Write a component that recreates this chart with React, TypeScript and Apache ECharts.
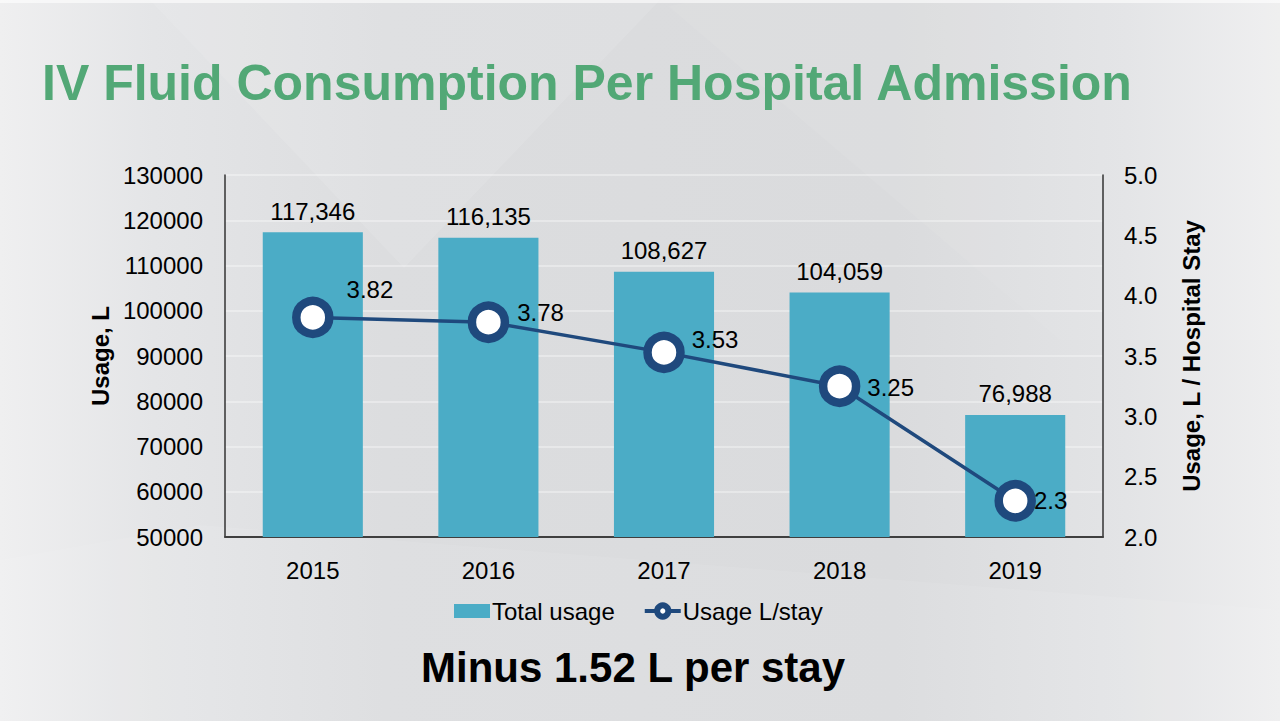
import React, { useEffect, useRef } from "react";
import * as echarts from "echarts";

const categories = ["2015", "2016", "2017", "2018", "2019"];
const totalUsage = [117346, 116135, 108627, 104059, 76988];
const usagePerStay = [3.82, 3.78, 3.53, 3.25, 2.3];
const leftTicks = { min: 50000, max: 130000, interval: 10000 };
const rightTicks = { min: 2.0, max: 5.0, interval: 0.5 };

const titleText = "IV Fluid Consumption Per Hospital Admission";
const subtitleText = "Minus 1.52 L per stay";
const seriesNames = ["Total usage", "Usage L/stay"];
const axisNames = ["Usage, L", "Usage, L / Hospital Stay"];

// label nudges for the line labels (style only)
const lineLabelOffsets = [
  [6, -28],
  [1, -10],
  [0, -13],
  [0, 1],
  [-9, 0],
];

const FONT = "'Liberation Sans', Arial, Helvetica, sans-serif";
const BAR = "#4BACC6";
const LINE = "#1F497D";
const FS = 24;

export default function App() {
  const ref = useRef<HTMLDivElement>(null);
  useEffect(() => {
    if (!ref.current) return;
    const chart = echarts.init(ref.current, undefined, { renderer: "svg" });
    const option: any = {
      animation: false,
      backgroundColor: {
        type: "linear",
        x: 0,
        y: 0,
        x2: 1,
        y2: 0,
        colorStops: [
          { offset: 0, color: "#efeff0" },
          { offset: 0.12, color: "#e4e5e7" },
          { offset: 0.3, color: "#dcdddf" },
          { offset: 0.7, color: "#dadbdd" },
          { offset: 0.88, color: "#e3e4e6" },
          { offset: 1, color: "#eeeeef" },
        ],
      },
      textStyle: { fontFamily: FONT },
      graphic: [
        {
          type: "polygon",
          silent: true,
          z: -10,
          shape: { points: [[150, 0], [660, 0], [404, 268]] },
          style: { fill: "rgba(255,255,255,0.10)" },
        },
        {
          type: "polygon",
          silent: true,
          z: -10,
          shape: { points: [[668, 6], [1060, 340], [1280, 340], [1280, 0], [700, 0]] },
          style: { fill: "rgba(255,255,255,0.06)" },
        },
        {
          type: "polygon",
          silent: true,
          z: -10,
          shape: { points: [[0, 560], [200, 525], [1280, 610], [1280, 721], [0, 721]] },
          style: { fill: "rgba(255,255,255,0.08)" },
        },
        {
          type: "rect",
          silent: true,
          z: -10,
          shape: { x: 0, y: 0, width: 1280, height: 3 },
          style: { fill: "rgba(255,255,255,0.6)" },
        },
      ],
      title: [
        {
          text: titleText,
          left: 37,
          top: 53,
          textStyle: { fontFamily: FONT, fontSize: 50, fontWeight: "bold", color: "#52A876" },
        },
        {
          text: subtitleText,
          left: 416,
          top: 641,
          textStyle: { fontFamily: FONT, fontSize: 42, fontWeight: "bold", color: "#000" },
        },
      ],
      legend: {
        data: [
          { name: seriesNames[0], icon: "rect" },
          {
            name: seriesNames[1],
            itemStyle: { color: "#fff", borderColor: LINE, borderWidth: 6 },
            lineStyle: { color: LINE, width: 4 },
          },
        ],
        left: 449,
        top: 594,
        itemWidth: 36,
        itemHeight: 14,
        itemGap: 28,
        textStyle: { fontFamily: FONT, fontSize: FS, color: "#000", padding: [0, 0, 0, -3] },
      },
      grid: { left: 225, right: 177, top: 175, bottom: 184, containLabel: false },
      xAxis: {
        type: "category",
        data: categories,
        axisLine: { lineStyle: { color: "#3f3f3f", width: 2 } },
        axisTick: { show: false },
        axisLabel: { fontFamily: FONT, fontSize: FS, color: "#000", margin: 21 },
      },
      yAxis: [
        {
          type: "value",
          min: leftTicks.min,
          max: leftTicks.max,
          interval: leftTicks.interval,
          name: axisNames[0],
          nameLocation: "middle",
          nameRotate: 90,
          nameGap: 113,
          nameTextStyle: { fontFamily: FONT, fontSize: FS, fontWeight: "bold", color: "#000" },
          axisLine: { show: true, lineStyle: { color: "#333", width: 1.5 } },
          axisTick: { show: false },
          axisLabel: {
            fontFamily: FONT,
            fontSize: FS,
            color: "#000",
            margin: 22,
            formatter: (v: number) => String(v),
          },
          splitLine: { show: true, lineStyle: { color: "rgba(255,255,255,0.45)", width: 1.5 } },
        },
        {
          type: "value",
          min: rightTicks.min,
          max: rightTicks.max,
          interval: rightTicks.interval,
          name: axisNames[1],
          nameLocation: "middle",
          nameRotate: 90,
          nameGap: 76,
          nameTextStyle: { fontFamily: FONT, fontSize: FS, fontWeight: "bold", color: "#000" },
          axisLine: { show: true, lineStyle: { color: "#333", width: 1.5 } },
          axisTick: { show: false },
          axisLabel: {
            fontFamily: FONT,
            fontSize: FS,
            color: "#000",
            margin: 21,
            formatter: (v: number) => v.toFixed(1),
          },
          splitLine: { show: false },
        },
      ],
      series: [
        {
          name: seriesNames[0],
          type: "bar",
          data: totalUsage,
          barWidth: "57%",
          itemStyle: { color: BAR },
          label: {
            show: true,
            position: "top",
            distance: 9,
            fontFamily: FONT,
            fontSize: FS,
            color: "#000",
            formatter: (p: any) => Number(p.value).toLocaleString("en-US"),
          },
        },
        {
          name: seriesNames[1],
          type: "line",
          yAxisIndex: 1,
          data: usagePerStay.map((v, i) => ({
            value: v,
            label: { offset: lineLabelOffsets[i] },
          })),
          symbol: "circle",
          symbolSize: 33,
          lineStyle: { color: LINE, width: 3.5 },
          itemStyle: { color: "#fff", borderColor: LINE, borderWidth: 8.5 },
          label: {
            show: true,
            position: "right",
            distance: 7,
            fontFamily: FONT,
            fontSize: FS,
            color: "#000",
          },
          z: 5,
        },
      ],
    };
    chart.setOption(option);
    return () => chart.dispose();
  }, []);
  return (
    <div
      ref={ref}
      style={{ position: "absolute", left: 0, top: 0, width: 1280, height: 721 }}
    />
  );
}
